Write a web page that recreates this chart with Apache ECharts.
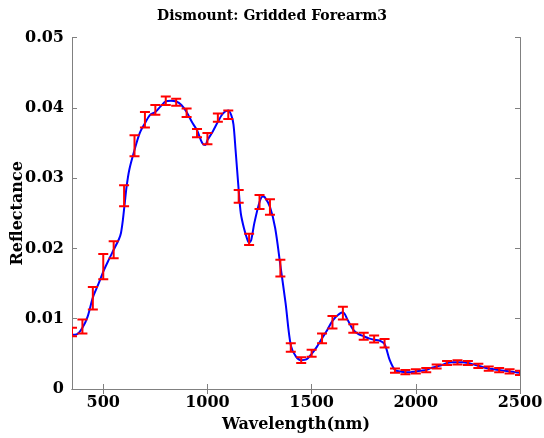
<!DOCTYPE html>
<html>
<head>
<meta charset="utf-8">
<script src="https://cdn.jsdelivr.net/npm/echarts@6/dist/echarts.min.js"></script>
<style>html,body{margin:0;padding:0;background:#fff}#c{width:544px;height:438px}</style>
</head>
<body>
<div id="c"></div>
<script>
// Blue spectrum line: wavelength (nm) and mean reflectance
const lineWl = [350,375,400,425,450,475,500,525,550,575,585,594,603,612,625,650,675,700,725,750,775,800,825,850,875,900,925,950,975,990,1000,1025,1050,1075,1100,1115,1125,1135,1150,1160,1175,1190,1200,1210,1225,1250,1265,1275,1300,1325,1350,1375,1400,1425,1450,1475,1500,1525,1550,1575,1600,1625,1650,1675,1700,1725,1750,1775,1800,1825,1850,1875,1900,1925,1950,1975,2000,2025,2050,2075,2100,2125,2150,2175,2200,2225,2250,2275,2300,2325,2350,2375,2400,2425,2450,2475,2500];
const lineRef = [0.0077,0.0078,0.0087,0.0103,0.0130,0.0148,0.0167,0.0183,0.0198,0.0213,0.0222,0.0240,0.0264,0.0288,0.0312,0.0340,0.0364,0.0378,0.0390,0.0394,0.0402,0.0409,0.0410,0.0409,0.0404,0.0394,0.0380,0.0368,0.0350,0.0347,0.0354,0.0366,0.0380,0.0392,0.0396,0.0389,0.0376,0.0340,0.0283,0.0250,0.0229,0.0214,0.0208,0.0212,0.0236,0.0266,0.0274,0.0273,0.0259,0.0229,0.0176,0.0122,0.0062,0.0046,0.0041,0.0042,0.0050,0.0060,0.0072,0.0084,0.0097,0.0105,0.0109,0.0097,0.0084,0.0078,0.0075,0.0072,0.0070,0.0069,0.0064,0.0041,0.0027,0.0025,0.0024,0.0024,0.0025,0.0026,0.0027,0.0030,0.0032,0.0034,0.0037,0.0038,0.0038,0.0038,0.0037,0.0035,0.0033,0.0031,0.0029,0.0028,0.0027,0.0026,0.0025,0.0024,0.0023];

// Red error bars: wavelength, mean, half-width
const barWl   = [350,400,450,500,550,600,650,700,750,800,850,900,950,1000,1050,1100,1150,1200,1250,1300,1350,1400,1450,1500,1550,1600,1650,1700,1750,1800,1850,1900,1950,2000,2050,2100,2150,2200,2250,2300,2350,2400,2450,2500];
const barMean = [0.0081,0.0089,0.0129,0.0174,0.0198,0.0275,0.0346,0.0383,0.0397,0.0410,0.0408,0.0393,0.0364,0.0356,0.0386,0.0390,0.0274,0.0213,0.0266,0.0259,0.0172,0.0059,0.0041,0.0051,0.0072,0.0095,0.0108,0.0086,0.0075,0.0071,0.0065,0.0026,0.0024,0.0025,0.0027,0.0032,0.0037,0.0038,0.0037,0.0033,0.0029,0.0027,0.0025,0.0023];
const barErr  = [0.0006,0.0010,0.0016,0.0018,0.0012,0.0015,0.0015,0.0011,0.0007,0.0006,0.0005,0.0006,0.0006,0.0008,0.0006,0.0006,0.0009,0.0008,0.0010,0.0011,0.0012,0.0006,0.0004,0.0005,0.0007,0.0009,0.0009,0.0006,0.0005,0.0005,0.0006,0.0003,0.0003,0.0003,0.0003,0.0003,0.0003,0.0003,0.0003,0.0003,0.0003,0.0003,0.0003,0.0003];

const xTicks = [500,1000,1500,2000,2500];
const title = 'Dismount: Gridded Forearm3';
const xName = 'Wavelength(nm)';
const yName = 'Reflectance';

const FONT = 'DejaVu Serif';
const axisColor = '#808080';

const chart = echarts.init(document.getElementById('c'), null, {renderer:'canvas'});
const lineData = lineWl.map((w,i)=>[w, lineRef[i]]);
const barData = barWl.map((w,i)=>[w, barMean[i], barErr[i]]);

chart.setOption({
  animation:false,
  backgroundColor:'#fff',
  title:{text:title, left:'center', top:4, textStyle:{fontFamily:FONT, fontWeight:'bold', fontSize:14, color:'#000'}},
  grid:{left:72, right:24, top:37.5, bottom:49, containLabel:false, outerBoundsMode:'none'},
  xAxis:[{
    type:'value', min:350, max:2500, position:'bottom',
    name:xName, nameLocation:'middle', nameGap:28, nameMoveOverlap:false,
    nameTextStyle:{fontFamily:FONT, fontWeight:'bold', fontSize:16, color:'#000'},
    axisLine:{show:true, lineStyle:{color:axisColor, width:1}},
    axisTick:{show:true, inside:true, length:5, customValues:xTicks, lineStyle:{color:axisColor}},
    axisLabel:{customValues:xTicks, formatter:function(v){return String(v);}, fontFamily:FONT, fontWeight:'bold', fontSize:16, color:'#000', margin:6},
    splitLine:{show:false}
  },{
    type:'value', min:350, max:2500, position:'top',
    axisLine:{show:true, lineStyle:{color:axisColor, width:1}},
    axisTick:{show:true, inside:true, length:5, customValues:xTicks, lineStyle:{color:axisColor}},
    axisLabel:{show:false}, splitLine:{show:false}
  }],
  yAxis:[{
    type:'value', min:0, max:0.05, interval:0.01, position:'left',
    name:yName, nameLocation:'middle', nameGap:46, nameRotate:90, nameMoveOverlap:false,
    nameTextStyle:{fontFamily:FONT, fontWeight:'bold', fontSize:16, color:'#000'},
    axisLine:{show:true, lineStyle:{color:axisColor, width:1}},
    axisTick:{show:true, inside:true, length:5, lineStyle:{color:axisColor}},
    axisLabel:{formatter:function(v){return String(+v.toFixed(4));}, fontFamily:FONT, fontWeight:'bold', fontSize:16, color:'#000', margin:8},
    splitLine:{show:false}
  },{
    type:'value', min:0, max:0.05, interval:0.01, position:'right',
    axisLine:{show:true, lineStyle:{color:axisColor, width:1}},
    axisTick:{show:true, inside:true, length:5, lineStyle:{color:axisColor}},
    axisLabel:{show:false}, splitLine:{show:false}
  }],
  series:[{
    type:'line', data:lineData, smooth:0.3, symbol:'none', clip:true,
    lineStyle:{color:'#0000ff', width:2}, z:2
  },{
    type:'custom', data:barData, clip:true, z:3,
    renderItem:function(params, api){
      const x = api.value(0), m = api.value(1), e = api.value(2);
      const top = api.coord([x, m+e]);
      const bot = api.coord([x, m-e]);
      const hw = 5;
      const st = {stroke:'#ff0000', lineWidth:2};
      return {type:'group', children:[
        {type:'line', shape:{x1:top[0], y1:top[1], x2:bot[0], y2:bot[1]}, style:st},
        {type:'line', shape:{x1:top[0]-hw, y1:top[1], x2:top[0]+hw, y2:top[1]}, style:st},
        {type:'line', shape:{x1:bot[0]-hw, y1:bot[1], x2:bot[0]+hw, y2:bot[1]}, style:st}
      ]};
    }
  }]
});
</script>
</body>
</html>
